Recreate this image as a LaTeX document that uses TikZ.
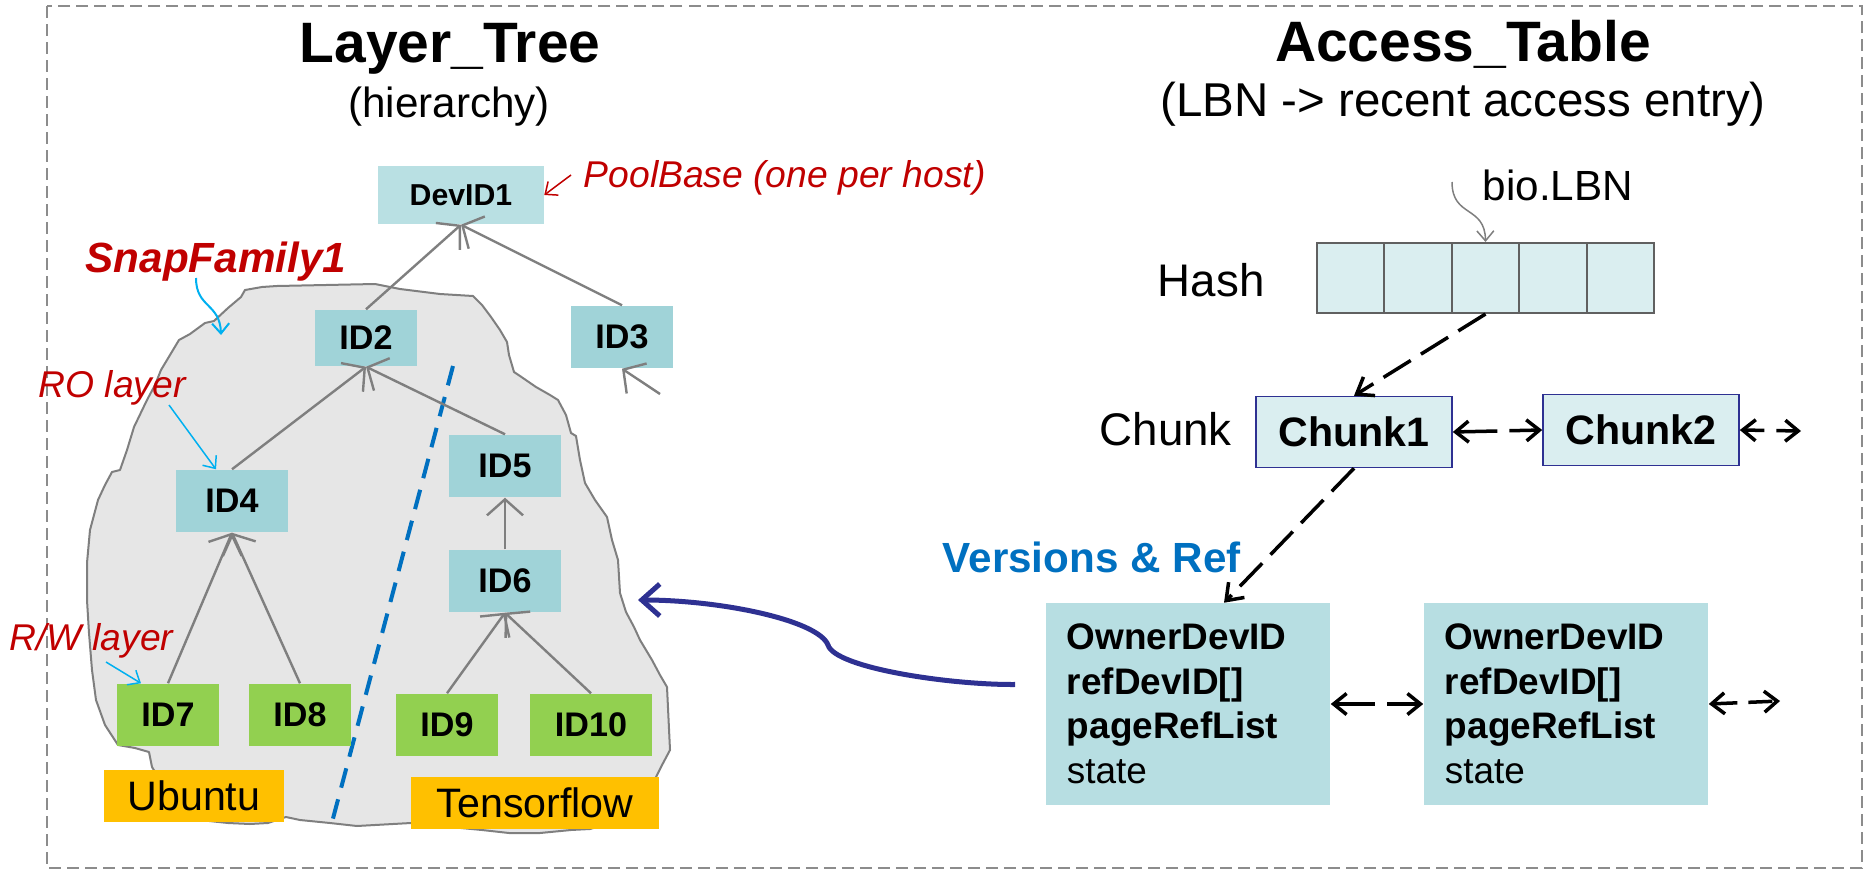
\documentclass[tikz,border=0pt]{standalone}
\usepackage{fontspec}
\setmainfont{Liberation Sans}
\usetikzlibrary{arrows.meta}

\definecolor{idcyan}{HTML}{A0D3D8}
\definecolor{devcyan}{HTML}{B9E0E3}
\definecolor{pale}{HTML}{DAEEF0}
\definecolor{vercyan}{HTML}{B7DEE2}
\definecolor{leafgreen}{HTML}{92D050}
\definecolor{osorange}{HTML}{FFC000}
\definecolor{blobgray}{HTML}{E6E6E6}
\definecolor{edgegray}{HTML}{7F7F7F}
\definecolor{cellgray}{HTML}{606060}
\definecolor{framegray}{HTML}{8C8C8C}
\definecolor{notered}{HTML}{C00000}
\definecolor{skyblue}{HTML}{00B0F0}
\definecolor{splitblue}{HTML}{0070C0}
\definecolor{navy}{HTML}{2E3192}

\begin{document}
\begin{tikzpicture}[x=0.01cm, y=-0.01cm,
    idnode/.style={fill=idcyan, minimum width=1.01cm, minimum height=0.62cm, inner sep=0pt,
      font=\fontsize{9.7}{11}\selectfont\bfseries},
    leafnode/.style={idnode, fill=leafgreen},
    osnode/.style={fill=osorange, minimum height=0.52cm, inner sep=0pt, font=\fontsize{11.7}{14}\selectfont},
    notetext/.style={text=notered, inner sep=0pt, font=\fontsize{10.6}{12}\selectfont\itshape},
    sidetext/.style={inner sep=0pt, font=\fontsize{13}{15}\selectfont},
    hashcell/.style={fill=pale, draw=cellgray, line width=0.02cm, minimum width=0.674cm,
      minimum height=0.7cm, inner sep=0pt},
    chunknode/.style={fill=pale, draw=navy, line width=0.015cm, minimum width=1.96cm,
      minimum height=0.71cm, inner sep=0pt, font=\fontsize{11.7}{14}\selectfont\bfseries},
    vernode/.style={fill=vercyan, text width=2.42cm, inner xsep=0.21cm, minimum height=2.01cm,
      align=left, font=\fontsize{10.5}{12.66}\selectfont},
    treeedge/.style={draw=edgegray, line width=0.024cm, -{Straight Barb[length=0.16cm, width=0.36cm]}},
    noteedge/.style={line width=0.015cm, -{Straight Barb[length=0.1cm, width=0.17cm]}},
    linkedge/.style={line width=0.035cm, dash pattern=on 0.4cm off 0.12cm,
      {Straight Barb[length=0.13cm, width=0.21cm]}-{Straight Barb[length=0.13cm, width=0.21cm]}},
    ptredge/.style={line width=0.035cm, dash pattern=on 0.32cm off 0.12cm,
      -{Straight Barb[length=0.15cm, width=0.22cm]}}
]
    \useasboundingbox (0,0) rectangle (1864,870);

    % Cadre
    \draw[framegray, line width=0.02cm, dash pattern=on 0.12cm off 0.06cm] (47,6) rectangle (1862,868);

    % Titres
    \node[anchor=base, font=\fontsize{16.2}{19}\selectfont\bfseries] (treetitle) at (450,63) {Layer\_Tree};
    \node[anchor=base, font=\fontsize{12}{14}\selectfont] (treesub) at (449,118) {(hierarchy)};
    \node[anchor=base, font=\fontsize{16.2}{19}\selectfont\bfseries] (tabletitle) at (1463,62) {Access\_Table};
    \node[anchor=base, font=\fontsize{13.5}{16}\selectfont] (tablesub) at (1463,117) {(LBN -> recent access entry)};

    % Famille de snapshots
    \draw[fill=blobgray, draw=edgegray, line width=0.02cm, line join=round]
      (179,340) -- (190,334) -- (205,323) -- (214,321) -- (228,308) -- (241,297) -- (245,290)
      -- (262,287) -- (277,286) -- (375,284) -- (400,289) -- (440,294) -- (473,296) -- (482,305)
      -- (491,317) -- (500,330) -- (507,342) -- (509,355) -- (514,372) -- (520,376) -- (536,387)
      -- (550,395) -- (558,400) -- (566,415) -- (571,433) -- (576,436) -- (580,460) -- (585,483)
      -- (595,500) -- (607,517) -- (612,540) -- (618,560) -- (620,593) -- (626,612) -- (634,627)
      -- (640,640) -- (652,660) -- (660,675) -- (667,687) -- (670,750) -- (661,767) -- (652,785)
      -- (640,805) -- (620,820) -- (590,829) -- (571,830) -- (540,833) -- (509,833) -- (482,830)
      -- (440,826) -- (411,823) -- (357,826) -- (330,823) -- (300,820) -- (286,817) -- (268,823)
      -- (250,824) -- (228,823) -- (200,820) -- (160,780) -- (152,767) -- (149,752) -- (135,748)
      -- (118,745) -- (105,725) -- (96,700) -- (92,670) -- (89,633) -- (87,600) -- (87,563)
      -- (90,530) -- (98,500) -- (105,485) -- (112,472) -- (120,470) -- (127,450) -- (134,427)
      -- (147,400) -- (155,385) -- (161,370) -- (170,355) -- cycle;

    \coordinate (splittop) at (453,366);
    \coordinate (splitbot) at (331,826);
    \draw[splitblue, line width=0.04cm, dash pattern=on 0.2cm off 0.12cm] (splittop) -- (splitbot);

    % Noeuds de l'arbre
    \node[idnode, fill=devcyan, minimum width=1.65cm, minimum height=0.58cm, font=\fontsize{8.6}{10}\selectfont\bfseries] (devid1) at (461,195) {DevID1};
    \node[idnode, minimum height=0.56cm] (id2) at (366,338) {ID2};
    \node[idnode] (id3) at (622,337) {ID3};
    \node[idnode, minimum width=1.11cm] (id4) at (232,501) {ID4};
    \node[idnode, minimum width=1.11cm] (id5) at (505,466) {ID5};
    \node[idnode, minimum width=1.11cm] (id6) at (505,581) {ID6};
    \node[leafnode] (id7) at (168,715) {ID7};
    \node[leafnode] (id8) at (300,715) {ID8};
    \node[leafnode] (id9) at (447,725) {ID9};
    \node[leafnode, minimum width=1.22cm] (id10) at (591,725) {ID10};
    \node[osnode, minimum width=1.79cm] (ubuntu) at (194,796) {Ubuntu};
    \node[osnode, minimum width=2.48cm] (tensorflow) at (535,803) {Tensorflow};

    % Aretes vers le parent
    \draw[treeedge] (id2.north) -- (devid1.south);
    \draw[treeedge] (id3.north) -- (devid1.south);
    \draw[treeedge] (id4.north) -- (id2.south);
    \draw[treeedge] (id5.north) -- (id2.south);
    \draw[treeedge] (id6.north) -- (id5.south);
    \draw[treeedge] (id7.north) -- (id4.south);
    \draw[treeedge] (id8.north) -- (id4.south);
    \draw[treeedge] (id9.north) -- (id6.south);
    \draw[treeedge] (id10.north) -- (id6.south);
    \coordinate (id3child) at (660,394);
    \draw[treeedge] (id3child) -- (id3.south);

    % Annotations
    \node[notetext, anchor=base west] (poolbase) at (583,188) {PoolBase (one per host)};
    \node[notetext, anchor=base west, font=\fontsize{12}{14}\selectfont\bfseries\itshape] (snapfamily) at (85,272) {SnapFamily1};
    \node[notetext, anchor=base west] (rolayer) at (38,397) {RO layer};
    \node[notetext, anchor=base west] (rwlayer) at (9,650) {R/W layer};

    \coordinate (poolfrom) at (571,175);
    \draw[noteedge, notered] (poolfrom) -- (devid1.east);
    \coordinate (snapfrom) at (196,278);
    \coordinate (snapto) at (221,335);
    \draw[noteedge, skyblue, line width=0.02cm] (snapfrom) .. controls (196,308) and (220,303) .. (snapto);
    \coordinate (rofrom) at (169,405);
    \draw[noteedge, skyblue] (rofrom) -- ([xshift=-0.16cm]id4.north);
    \coordinate (rwfrom) at (106,662);
    \draw[noteedge, skyblue] (rwfrom) -- ([xshift=-0.27cm]id7.north);

    % Table d'acces
    \node[sidetext, anchor=base west] (hashlabel) at (1157,296) {Hash};
    \foreach \i in {1,...,5}
      \node[hashcell] (h\i) at ({1317+67.4*(\i-0.5)},278) {};
    \node[anchor=base west, inner sep=0pt, font=\fontsize{12}{14}\selectfont] (biolbn) at (1482,201) {bio.LBN};
    \coordinate (biofrom) at (1452,182);
    \draw[noteedge, edgegray] (biofrom) .. controls (1452,218) and (1485,205) .. (h3.north);

    \node[sidetext, anchor=base west] (chunklabel) at (1099,445) {Chunk};
    \node[chunknode] (chunk1) at (1354,432) {Chunk1};
    \node[chunknode] (chunk2) at (1641,430) {Chunk2};
    \coordinate (chunknext) at (1801,431);

    \node[anchor=base west, inner sep=0pt, text=splitblue, font=\fontsize{12}{14}\selectfont\bfseries] (verlabel) at (942,572) {Versions \& Ref};
    \node[vernode] (ver1) at (1188,704) {\textbf{OwnerDevID}\\ \textbf{refDevID[]}\\ \textbf{pageRefList}\\ state};
    \node[vernode] (ver2) at (1566,704) {\textbf{OwnerDevID}\\ \textbf{refDevID[]}\\ \textbf{pageRefList}\\ state};
    \coordinate (vernext) at (1780,701);

    \draw[ptredge] (h3.south) -- (chunk1.north);
    \draw[ptredge] (chunk1.south) -- ([xshift=0.36cm]ver1.north);
    \draw[linkedge] (chunk1.east) -- (chunk2.west);
    \draw[linkedge, dash pattern=on 0.2cm off 0.12cm] (chunk2.east) -- (chunknext);
    \draw[linkedge] (ver1.east) -- (ver2.west);
    \draw[linkedge, dash pattern=on 0.24cm off 0.11cm] (ver2.east) -- (vernext);

    % Lien vers la famille
    \coordinate (blobedge) at (638,600);
    \draw[navy, line width=0.05cm, -{Straight Barb[length=0.18cm, width=0.32cm]}]
      ([shift={(-0.3cm,0.195cm)}]ver1.west) .. controls (950,685) and (835,668) .. (828,645)
      .. controls (818,620) and (720,600) .. (blobedge);
\end{tikzpicture}
\end{document}
